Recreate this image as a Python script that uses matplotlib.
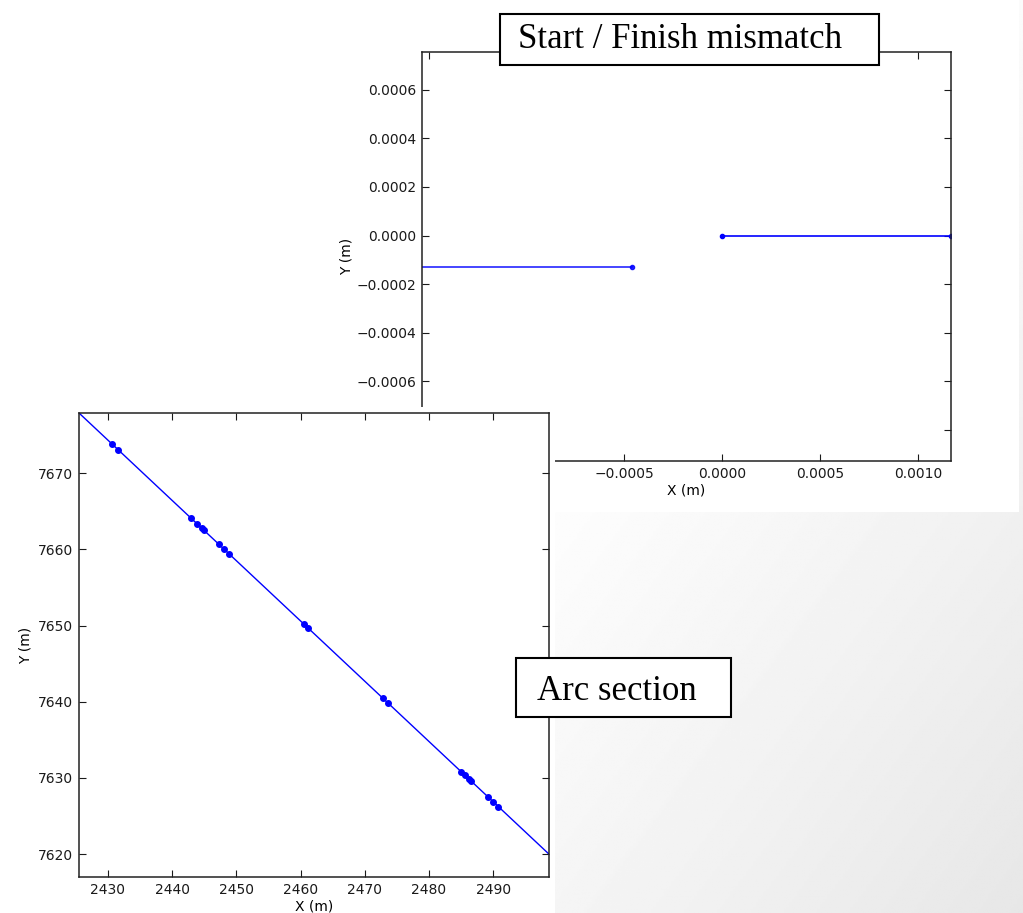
import numpy as np
import matplotlib
matplotlib.use("Agg")
import matplotlib.pyplot as plt
from matplotlib.patches import Rectangle
from matplotlib.ticker import FuncFormatter, FixedLocator

W, H = 1023, 913

# Start / finish closure near the origin (metres)
finish_x = [-0.0016, -0.00046]
finish_y = [-0.00013, -0.00013]
start_x = [0.0, 0.00117]
start_y = [0.0, 0.0]

# Arc section: straight track segment with surveyed points along it
arc_line_x = [2425.5, 2498.7]
arc_line_y = [7677.9, 7620.0]
arc_pts_x = [2430.6, 2431.6, 2442.9, 2443.9, 2444.6, 2444.9, 2447.3, 2448.1,
             2448.9, 2460.5, 2461.2, 2472.8, 2473.6, 2485.0, 2485.6, 2486.2,
             2486.5, 2489.2, 2490.0, 2490.8]
arc_pts_y = [7673.87, 7673.07, 7664.14, 7663.35, 7662.79, 7662.55, 7660.66,
             7660.02, 7659.39, 7650.21, 7649.66, 7640.49, 7639.85, 7630.84,
             7630.36, 7629.89, 7629.65, 7627.51, 7626.88, 7626.25]

top_xticks = [-0.0015, -0.0010, -0.0005, 0.0000, 0.0005, 0.0010]
top_yticks = [-0.0008, -0.0006, -0.0004, -0.0002, 0.0000, 0.0002, 0.0004, 0.0006]
arc_xticks = [2430, 2440, 2450, 2460, 2470, 2480, 2490]
arc_yticks = [7620, 7630, 7640, 7650, 7660, 7670]


def fx(x):
    return x / W


def fy(y):
    return 1 - y / H


def rect(x0, y0, x1, y1):
    return [fx(x0), fy(y1), (x1 - x0) / W, (y1 - y0) / H]


def minus_fmt(fmt):
    return FuncFormatter(lambda v, p: (fmt % v).replace("-", "\u2212"))


def classic(ax):
    ax.tick_params(direction="in", length=5, width=0.8, top=True, right=True,
                   labelsize=10, pad=4, colors="#1a1a1a")
    for s in ax.spines.values():
        s.set_linewidth(1.1)
        s.set_color("#222222")


fig = plt.figure(figsize=(W / 100, H / 100), dpi=100)

# slide background with a soft grey shading toward the lower right
bg = fig.add_axes([0, 0, 1, 1], zorder=0)
gx, gy = np.meshgrid(np.linspace(0, 1, 400), np.linspace(0, 1, 360))
t = np.clip((gx * 0.6 + gy * 0.4 - 0.5) / 0.5, 0, 1)
bg.imshow(1 - 0.095 * t ** 1.1, cmap="gray", vmin=0, vmax=1,
          extent=[0, 1, 0, 1], aspect="auto", origin="upper")
bg.set_axis_off()

# white panel behind the closure plot
fig.add_artist(Rectangle((fx(3), fy(512)), (1019 - 3) / W, 512 / H,
                         transform=fig.transFigure, facecolor="white",
                         edgecolor="none", zorder=1))

ax1 = fig.add_axes(rect(422, 52, 951, 461), zorder=2)
ax1.plot(finish_x, finish_y, color="blue", lw=1.2, marker="o", ms=3,
         markevery=[1], alpha=0.85)
ax1.plot(start_x, start_y, color="blue", lw=1.2, marker="o", ms=3)
ax1.set_xlim(-0.001535, 0.00117)
ax1.set_ylim(-0.000929, 0.000756)
ax1.xaxis.set_major_locator(FixedLocator(top_xticks))
ax1.yaxis.set_major_locator(FixedLocator(top_yticks))
ax1.xaxis.set_major_formatter(minus_fmt("%.4f"))
ax1.yaxis.set_major_formatter(minus_fmt("%.4f"))
ax1.set_xlabel("X (m)", fontsize=10, labelpad=2)
ax1.set_ylabel("Y (m)", fontsize=10, labelpad=2)
classic(ax1)

# white panel behind the arc plot
fig.add_artist(Rectangle((0, 0), 555 / W, (913 - 407) / H,
                         transform=fig.transFigure, facecolor="white",
                         edgecolor="none", zorder=3))

ax2 = fig.add_axes(rect(79, 413, 549, 877), zorder=4)
ax2.plot(arc_line_x, arc_line_y, color="blue", lw=1.0)
ax2.plot(arc_pts_x, arc_pts_y, linestyle="none", marker="o", ms=4,
         color="blue")
ax2.set_xlim(2425.5, 2498.7)
ax2.set_ylim(7617.0, 7677.9)
ax2.xaxis.set_major_locator(FixedLocator(arc_xticks))
ax2.yaxis.set_major_locator(FixedLocator(arc_yticks))
ax2.set_xlabel("X (m)", fontsize=10, labelpad=2)
ax2.set_ylabel("Y (m)", fontsize=10)
classic(ax2)

# annotation boxes
for (x0, y0, x1, y1), label, tx, base in [
        ((500, 14, 879, 65), "Start / Finish mismatch", 518, 48),
        ((516, 658, 731, 717), "Arc section", 537, 700)]:
    fig.add_artist(Rectangle((fx(x0), fy(y1)), (x1 - x0) / W, (y1 - y0) / H,
                             transform=fig.transFigure, facecolor="white",
                             edgecolor="black", lw=1.5, zorder=5))
    fig.text(fx(tx), fy(base), label, fontsize=25, family="Liberation Serif",
             ha="left", va="baseline", zorder=6)

fig.savefig("out.png", dpi=100)
